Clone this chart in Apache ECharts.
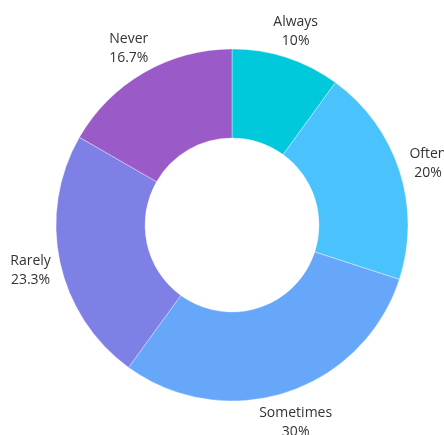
<!DOCTYPE html>
<html>
<head>
<meta charset="utf-8">
<script src="https://cdn.jsdelivr.net/npm/echarts@6/dist/echarts.min.js"></script>
<style>
  html, body { margin: 0; padding: 0; background: #ffffff; }
  #chart { width: 444px; height: 435px; }
</style>
</head>
<body>
<div id="chart"></div>
<script>
// Answer frequencies, clockwise from 12 o'clock
const categories = ['Always', 'Often', 'Sometimes', 'Rarely', 'Never'];
const shares = [10, 20, 30, 23.3, 16.7];
const percentLabels = ['10%', '20%', '30%', '23.3%', '16.7%'];
const sliceColors = ['#00C9DB', '#4AC3FD', '#67A7FA', '#7F80E6', '#9A5AC8'];

const sliceData = categories.map((name, i) => ({
  name: name,
  value: shares[i],
  itemStyle: { color: sliceColors[i] }
}));

const labelData = categories.map((name, i) => ({
  name: name,
  value: shares[i],
  pct: percentLabels[i]
}));

const center = [232, 225];

const chart = echarts.init(document.getElementById('chart'), null, { renderer: 'canvas' });
chart.setOption({
  animation: false,
  backgroundColor: '#ffffff',
  series: [
    {
      type: 'pie',
      center: center,
      radius: [87, 176],
      startAngle: 90,
      clockwise: true,
      silent: true,
      label: { show: false },
      labelLine: { show: false },
      itemStyle: { borderColor: 'rgba(255,255,255,0.6)', borderWidth: 0.6 },
      data: sliceData
    },
    {
      // transparent ring whose inside labels sit just outside the donut
      type: 'pie',
      center: center,
      radius: [196, 210],
      startAngle: 90,
      clockwise: true,
      silent: true,
      itemStyle: { color: 'rgba(0,0,0,0)' },
      labelLine: { show: false },
      label: {
        show: true,
        position: 'inside',
        formatter: (p) => p.name + '\n' + labelData[p.dataIndex].pct,
        fontFamily: 'Open Sans',
        fontSize: 14,
        lineHeight: 19,
        color: '#333333',
        align: 'center',
        offset: [0, 2]
      },
      data: labelData
    }
  ]
});
</script>
</body>
</html>
